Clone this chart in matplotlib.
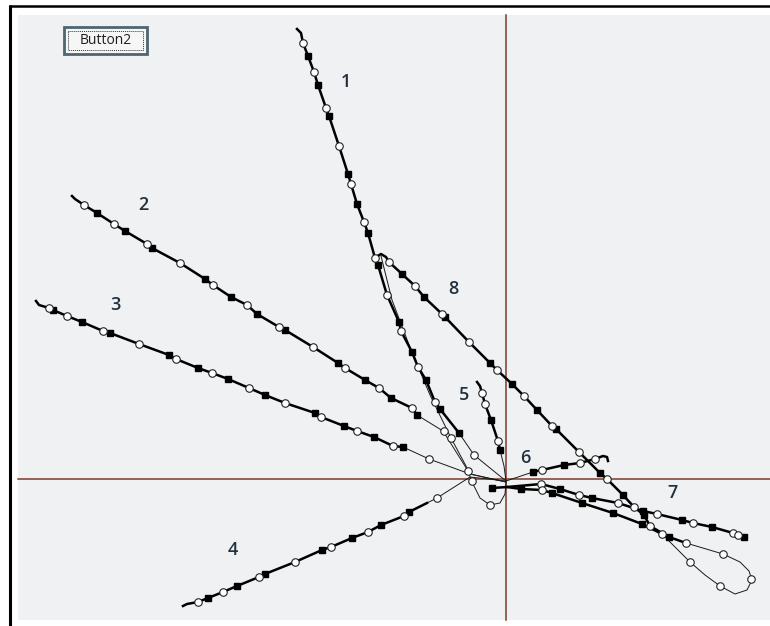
import matplotlib
matplotlib.use("Agg")
import matplotlib.pyplot as plt
from matplotlib.patches import Rectangle

cross_x = 506
cross_y = 479

# tracks: (x, y, marker)  'o' open circle, 's' filled square, '-' no marker
track1 = [(297, 29, '-'), (301, 33, '-'), (303, 43, 'o'), (308, 56, 's'), (314, 72, 'o'),
          (318, 85, 's'), (326, 108, 'o'), (329, 116, 's'), (339, 146, 'o'), (348, 174, 's'),
          (351, 184, 'o'), (357, 204, 's'), (364, 222, 'o'), (368, 233, 's'), (375, 258, 'o'),
          (378, 265, 's'), (387, 295, 'o'), (399, 322, 's'), (401, 331, 'o'), (412, 352, 's'),
          (418, 367, 'o'), (426, 380, 's'), (435, 402, 'o'), (440, 409, 's'), (459, 433, 's')]
track2 = [(72, 196, '-'), (75, 199, '-'), (84, 205, 'o'), (97, 213, 's'), (114, 224, 'o'),
          (125, 231, 's'), (147, 244, 'o'), (152, 248, 's'), (180, 263, 'o'), (205, 279, 's'),
          (213, 285, 'o'), (231, 297, 's'), (247, 305, 'o'), (257, 314, 's'), (279, 327, 'o'),
          (285, 330, 's'), (313, 347, 'o'), (338, 363, 's'), (345, 368, 'o'), (365, 380, 's'),
          (379, 388, 'o'), (391, 398, 's'), (412, 408, 'o'), (417, 415, 's')]
track3 = [(36, 301, '-'), (39, 305, '-'), (49, 308, 'o'), (53, 310, 's'), (67, 316, 'o'),
          (82, 322, 's'), (103, 331, 'o'), (110, 333, 's'), (139, 344, 'o'), (169, 355, 's'),
          (176, 359, 'o'), (198, 368, 's'), (212, 373, 'o'), (228, 379, 's'), (249, 388, 'o'),
          (265, 395, 's'), (285, 403, 'o'), (315, 413, 's'), (321, 417, 'o'), (344, 426, 's'),
          (357, 431, 'o'), (374, 437, 's'), (393, 446, 'o'), (403, 447, 's')]
track4 = [(183, 606, '-'), (187, 604, '-'), (198, 602, 'o'), (208, 598, 's'), (223, 592, 'o'),
          (237, 586, 's'), (259, 577, 'o'), (265, 574, 's'), (295, 562, 'o'), (322, 550, 's'),
          (331, 547, 'o'), (352, 538, 's'), (368, 532, 'o'), (381, 525, 's'), (404, 516, 'o'),
          (409, 512, 's'), (427, 503, '-')]
track5 = [(477, 382, '-'), (480, 386, '-'), (482, 393, 'o'), (485, 404, 'o'), (491, 420, 's'),
          (498, 441, 'o'), (500, 450, 's')]
track6 = [(533, 472, 's'), (542, 470, 'o'), (564, 465, 's'), (580, 463, 'o'), (595, 459, 'o'),
          (603, 456, '-'), (607, 457, '-'), (608, 461, '-')]
track7 = [(492, 488, 's'), (507, 487, '-'), (541, 484, 'o'), (560, 489, 's'), (579, 495, 'o'),
          (592, 498, 's'), (618, 503, 'o'), (643, 511, 's'), (657, 514, 'o'), (682, 520, 's'),
          (693, 523, 'o'), (712, 527, 's'), (733, 533, 'o'), (738, 535, 'o'), (744, 537, 's')]
track8 = [(376, 257, '-'), (381, 254, '-'), (386, 257, '-'), (389, 262, 'o'), (402, 274, 's'),
          (415, 286, 'o'), (424, 297, 's'), (442, 314, 'o'), (445, 317, 's'), (469, 342, 'o'),
          (490, 363, 's'), (497, 370, 'o'), (512, 384, 's'), (524, 396, 'o'), (537, 410, 's'),
          (552, 426, 'o'), (556, 429, 's'), (579, 452, 'o'), (600, 473, 's'), (607, 479, 'o'),
          (623, 495, 's'), (634, 507, 'o'), (644, 515, 's'), (650, 526, 'o'), (669, 537, 's'),
          (686, 543, 'o')]
track8_back = [(662, 534, 'o'), (642, 524, 's'), (613, 513, 's'), (582, 503, 's'),
               (552, 493, 's'), (542, 490, 'o'), (521, 489, 's'), (507, 487, '-')]

# thin connecting paths
thin_paths = [
    [(381, 256), (392, 300), (411, 350), (430, 395), (451, 438), (466, 466), (472, 482),
     (480, 498), (490, 505), (500, 503), (505, 494), (506, 483)],
    [(459, 433), (474, 455), (506, 481)],
    [(417, 415), (443, 431), (470, 474), (506, 482)],
    [(403, 447), (429, 459), (470, 474), (506, 482)],
    [(427, 503), (437, 498), (470, 477), (506, 481)],
    [(500, 450), (504, 466), (506, 481)],
    [(506, 481), (533, 472)],
    [(686, 543), (723, 554), (740, 562), (749, 571), (752, 580), (747, 590), (735, 594),
     (720, 586), (705, 575), (690, 562), (662, 534)],
]
thin_circles = [(429, 459), (437, 498), (474, 455), (451, 438), (444, 431), (468, 471),
                (472, 481), (490, 505), (723, 554), (751, 579), (720, 586), (690, 562)]

label_text = ['1', '2', '3', '4', '5', '6', '7', '8']
label_x = [346, 143, 115, 233, 464, 525, 673, 453]
label_y = [82, 205, 305, 550, 395, 458, 493, 289]

W, H = 770, 626
fig = plt.figure(figsize=(W / 100, H / 100), dpi=100)
ax = fig.add_axes([0, 0, 1, 1])
ax.set_xlim(0, W)
ax.set_ylim(H, 0)
ax.axis('off')

# window frame + client area
ax.add_patch(Rectangle((18, 15), W - 18, 605, facecolor='#eff1f2', edgecolor='none', zorder=0))
ax.plot([9, W], [5.5, 5.5], color='black', lw=1.8, solid_capstyle='butt', zorder=1)
ax.plot([10, 10], [5, H], color='black', lw=2.2, solid_capstyle='butt', zorder=1)

# crosshair
ax.plot([cross_x, cross_x], [15, 620], color='#7d3a2e', lw=1.1, zorder=2)
ax.plot([18, W], [cross_y, cross_y], color='#7d3a2e', lw=1.1, zorder=2)

for p in thin_paths:
    ax.plot([q[0] for q in p], [q[1] for q in p], color='#1a1a1a', lw=0.7, zorder=3)


def draw_track(tr):
    xs = [q[0] for q in tr]
    ys = [q[1] for q in tr]
    ax.plot(xs, ys, color='black', lw=1.8, zorder=4, solid_joinstyle='round')
    cx = [q[0] for q in tr if q[2] == 'o']
    cy = [q[1] for q in tr if q[2] == 'o']
    sx = [q[0] for q in tr if q[2] == 's']
    sy = [q[1] for q in tr if q[2] == 's']
    ax.plot(sx, sy, ls='none', marker='s', ms=4.5, mfc='black', mec='black', zorder=5)
    ax.plot(cx, cy, ls='none', marker='o', ms=5.4, mfc='white', mec='#222222', mew=0.8, zorder=6)


for tr in [track1, track2, track3, track4, track5, track6, track7, track8, track8_back]:
    draw_track(tr)

ax.plot([q[0] for q in thin_circles], [q[1] for q in thin_circles], ls='none', marker='o',
        ms=5.4, mfc='white', mec='#222222', mew=0.8, zorder=6)

for t, x, y in zip(label_text, label_x, label_y):
    ax.text(x, y, t, ha='center', va='center', fontsize=13, color='#22303e',
            family='Open Sans', fontweight='semibold', zorder=7)

# Button2
ax.add_patch(Rectangle((64, 27), 83, 27, facecolor='#f6f6f6', edgecolor='#4d6670', lw=2.0, zorder=7))
ax.add_patch(Rectangle((68, 31), 75, 19, facecolor='none', edgecolor='#333333', lw=0.7,
                       ls=(0, (1, 1)), zorder=8))
ax.text(105.5, 40.5, 'Button2', ha='center', va='center', fontsize=10, color='#1e1e1e',
        family='Open Sans', zorder=9)

fig.savefig('out.png', dpi=100)
